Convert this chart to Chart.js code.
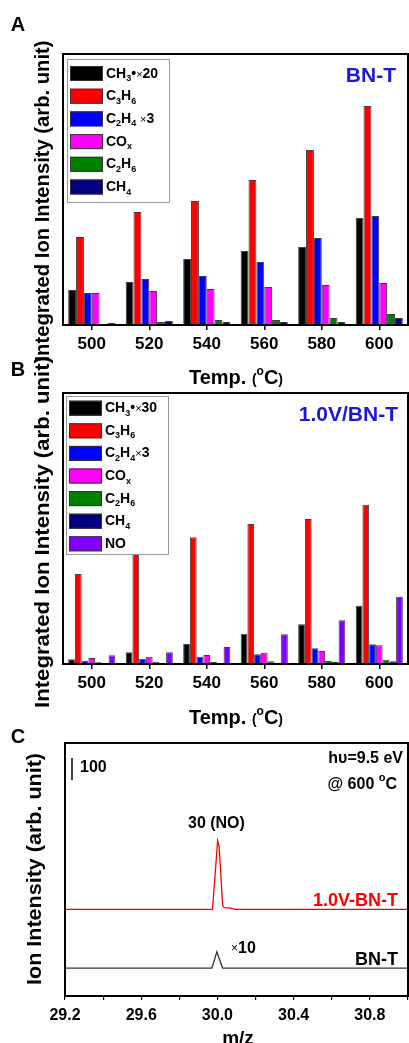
<!DOCTYPE html>
<html>
<head>
<meta charset="utf-8">
<script src="https://cdn.jsdelivr.net/npm/chart.js@4.4.1/dist/chart.umd.min.js"></script>
<style>
  html, body { margin: 0; padding: 0; background: #fff; }
  #wrap { position: relative; width: 409px; height: 1043px; overflow: hidden; }
  #wrap canvas { position: absolute; left: 0; }
</style>
</head>
<body>
<div id="wrap">
  <canvas id="chartA" width="409" height="390" style="top:0px"></canvas>
  <canvas id="chartB" width="409" height="390" style="top:339px"></canvas>
  <canvas id="chartC" width="409" height="343" style="top:700px"></canvas>
</div>
<script>
const temps = ['500', '520', '540', '560', '580', '600'];

// panel A - BN-T (integrated intensities, arb. unit)
const labelsA = ['CH₃•×20', 'C₃H₆', 'C₂H₄ ×3', 'COₓ', 'C₂H₆', 'CH₄'];
const ch3A  = [35, 43, 66, 74, 78, 107];
const c3h6A = [88, 113, 124, 145, 175, 219];
const c2h4A = [32, 46, 49, 63, 87, 109];
const coxA  = [32, 34, 36, 38, 40, 42];
const c2h6A = [1, 3, 5, 5, 7, 11];
const ch4A  = [2, 4, 3, 3, 3, 7];

// panel B - 1.0V/BN-T
const labelsB = ['CH₃•×30', 'C₃H₆', 'C₂H₄×3', 'COₓ', 'C₂H₆', 'CH₄', 'NO'];
const ch3B  = [4.7, 11.7, 20, 30.3, 39.7, 58.3];
const c3h6B = [90, 112, 126.7, 140, 145, 159.3];
const c2h4B = [3.3, 5.3, 7.3, 9.7, 15.7, 19.7];
const coxB  = [6, 7.3, 9, 11.3, 13, 18.7];
const c2h6B = [1.7, 2.3, 2, 2.7, 3, 4.3];
const ch4B  = [0.7, 0.7, 0.7, 1.3, 2, 2.7];
const noB   = [8.7, 11.7, 17, 29.7, 43.7, 67.3];

// panel C - mass spectra at 600 C (offset traces)
const mzRed    = [29.2, 29.974, 30.001, 30.009, 30.027, 30.035, 30.062, 30.079, 30.09, 31.0];
const intRed   = [394, 394, 706, 679, 413, 402, 401, 397, 394, 394];
const mzBlack  = [29.2, 29.971, 29.997, 30.027, 31.0];
const intBlack = [127, 127, 201, 127, 127];
const scaleBarValue = 100;

const FONT = '"Liberation Sans", Arial, Helvetica, sans-serif';
const barColors = ['#000000', '#ff0000', '#0000ff', '#ff00ff', '#008000', '#000080', '#8000ff'];
const SUB = { '₀': '0', '₁': '1', '₂': '2', '₃': '3', '₄': '4', '₅': '5', '₆': '6', '₇': '7', '₈': '8', '₉': '9', 'ₓ': 'x' };

// label with chemical subscripts, baseline at y
function chemText(ctx, str, x, y, size) {
  let cx = x;
  ctx.textAlign = 'left';
  ctx.textBaseline = 'alphabetic';
  for (const ch of str) {
    let t = ch, dy = 0;
    if (SUB[ch]) {
      t = SUB[ch];
      dy = size * 0.25;
      ctx.font = `bold ${Math.round(size * 0.62)}px ${FONT}`;
    } else if (ch === '×') {
      ctx.font = `${Math.round(size * 0.8)}px ${FONT}`;
    } else {
      ctx.font = `bold ${size}px ${FONT}`;
    }
    ctx.fillText(t, cx, y + dy);
    cx += ctx.measureText(t).width;
  }
}

// mixed-size text pieces: [text, size, raise]
function segText(ctx, segs, x, y, align) {
  let w = 0;
  segs.forEach(([t, s]) => { ctx.font = `bold ${s}px ${FONT}`; w += ctx.measureText(t).width; });
  let cx = align === 'center' ? x - w / 2 : align === 'right' ? x - w : x;
  ctx.textAlign = 'left';
  ctx.textBaseline = 'alphabetic';
  segs.forEach(([t, s, r]) => {
    ctx.font = `bold ${s}px ${FONT}`;
    ctx.fillText(t, cx, y - (r || 0));
    cx += ctx.measureText(t).width;
  });
}

function vTitle(ctx, text, cx, cy, len, size) {
  ctx.save();
  ctx.translate(cx, cy);
  ctx.rotate(-Math.PI / 2);
  ctx.font = `bold ${size}px ${FONT}`;
  const w = ctx.measureText(text).width;
  ctx.scale(len / w, 1);
  ctx.textAlign = 'center';
  ctx.textBaseline = 'middle';
  ctx.fillStyle = '#000';
  ctx.fillText(text, 0, 0);
  ctx.restore();
}

function drawLegend(ctx, chart, a, L) {
  const x0 = a.left + L.left, y0 = a.top + L.top;
  ctx.fillStyle = '#fff';
  ctx.fillRect(x0, y0, L.width, L.height);
  ctx.strokeStyle = '#9a9a9a';
  ctx.lineWidth = 1;
  ctx.strokeRect(x0 + 0.5, y0 + 0.5, L.width, L.height);
  chart.data.datasets.forEach((ds, i) => {
    const ty = y0 + L.padTop + i * L.rowH;
    ctx.fillStyle = ds.backgroundColor;
    ctx.fillRect(x0 + 3, ty, 33, 15);
    ctx.strokeStyle = '#333';
    ctx.strokeRect(x0 + 3.5, ty + 0.5, 32, 14);
    ctx.fillStyle = '#000';
    chemText(ctx, ds.label, x0 + 39, ty + 11.5, 14);
  });
}

const panelPlugin = {
  id: 'panel',
  afterDraw(chart, args, o) {
    const ctx = chart.ctx, a = chart.chartArea;
    ctx.save();
    drawLegend(ctx, chart, a, o.legend);
    ctx.strokeStyle = '#000';
    ctx.lineWidth = 2;
    ctx.strokeRect(a.left, a.top, a.right - a.left, a.bottom - a.top);

    ctx.fillStyle = '#000';
    ctx.font = `bold 20px ${FONT}`;
    ctx.textAlign = 'center';
    ctx.textBaseline = 'middle';
    ctx.fillText(o.letter, 18, o.letterY);

    vTitle(ctx, 'Integrated Ion Intensity (arb. unit)', 43, o.yTitleY, o.yTitleLen, o.yTitleSize);

    ctx.fillStyle = '#1a1ad6';
    ctx.font = `bold 21px ${FONT}`;
    ctx.textAlign = 'right';
    ctx.textBaseline = 'alphabetic';
    ctx.fillText(o.tag, o.tagX, a.top + 27.5);

    ctx.fillStyle = '#000';
    segText(ctx, [['Temp. ', 20], ['(', 14], ['o', 12, 9], ['C', 20], [')', 14]], 236, o.xTitleY, 'center');
    ctx.restore();
  }
};

function barSets(labels, series) {
  return series.map((d, i) => ({
    label: labels[i],
    data: d,
    backgroundColor: barColors[i],
    borderColor: 'rgba(0,0,0,0.75)',
    borderWidth: 1,
    barPercentage: 1,
    categoryPercentage: 0.82
  }));
}

// keep the plot box exactly where the layout padding puts it
function fixAxis(height) {
  return s => {
    s.height = height;
    s.paddingLeft = 0;
    s.paddingRight = 0;
  };
}

function barChart(id, labels, series, panel) {
  return new Chart(document.getElementById(id), {
    type: 'bar',
    data: { labels: temps, datasets: barSets(labels, series) },
    options: {
      responsive: false,
      animation: false,
      devicePixelRatio: 1,
      layout: { padding: { left: 63, top: 54, right: 1, bottom: 35 } },
      scales: {
        x: {
          offset: true,
          grid: { offset: false, drawOnChartArea: false, drawTicks: true, tickLength: 5, color: '#000', lineWidth: 1.5 },
          border: { display: true, color: '#000', width: 2 },
          ticks: { color: '#000', font: { family: FONT, size: 17, weight: 'bold' }, padding: 4, maxRotation: 0 },
          afterFit: fixAxis(30)
        },
        y: { display: false, min: 0, max: 271 }
      },
      plugins: {
        legend: { display: false },
        tooltip: { enabled: false },
        panel: panel
      }
    },
    plugins: [panelPlugin]
  });
}

barChart('chartA', labelsA, [ch3A, c3h6A, c2h4A, coxA, c2h6A, ch4A], {
  letter: 'A', letterY: 25,
  yTitleY: 201, yTitleLen: 321, yTitleSize: 20,
  tag: 'BN-T', tagX: 396,
  xTitleY: 384,
  legend: { left: 4, top: 5, width: 102, height: 143, padTop: 7, rowH: 22.7 }
});

barChart('chartB', labelsB, [ch3B, c3h6B, c2h4B, coxB, c2h6B, ch4B, noB], {
  letter: 'B', letterY: 31,
  yTitleY: 193, yTitleLen: 352, yTitleSize: 21,
  tag: '1.0V/BN-T', tagX: 398,
  xTitleY: 385,
  legend: { left: 3, top: 3, width: 102, height: 158, padTop: 4.7, rowH: 22.6 }
});

const spectrumDecor = {
  id: 'spectrumDecor',
  afterDraw(chart) {
    const ctx = chart.ctx, a = chart.chartArea, xs = chart.scales.x, ys = chart.scales.y;
    ctx.save();
    ctx.strokeStyle = '#000';
    ctx.lineWidth = 2;
    ctx.strokeRect(a.left, a.top, a.right - a.left, a.bottom - a.top);

    ctx.fillStyle = '#000';
    ctx.font = `bold 20px ${FONT}`;
    ctx.textAlign = 'center';
    ctx.textBaseline = 'middle';
    ctx.fillText('C', 18, 37);
    vTitle(ctx, 'Ion Intensity (arb. unit)', 35, 169, 232, 21);

    // intensity scale bar
    ctx.lineWidth = 1.5;
    ctx.beginPath();
    ctx.moveTo(a.left + 7, ys.getPixelForValue(1082));
    ctx.lineTo(a.left + 7, ys.getPixelForValue(1082 - scaleBarValue));
    ctx.stroke();
    ctx.font = `bold 16px ${FONT}`;
    ctx.textAlign = 'left';
    ctx.textBaseline = 'alphabetic';
    ctx.fillText(String(scaleBarValue), 80, 72);

    ctx.textAlign = 'right';
    ctx.fillText('hυ=9.5 eV', 403, 63);
    segText(ctx, [['@ 600 ', 16], ['o', 11, 8], ['C', 16]], 397, 89, 'right');

    ctx.font = `bold 16px ${FONT}`;
    ctx.textAlign = 'center';
    ctx.fillText('30 (NO)', xs.getPixelForValue(30.0) - 1, 128);

    ctx.font = `bold 18px ${FONT}`;
    ctx.textAlign = 'right';
    ctx.fillStyle = '#ff0000';
    ctx.fillText('1.0V-BN-T', 398, 205.5);
    ctx.fillStyle = '#000';
    ctx.fillText('BN-T', 398, 264.5);

    ctx.textAlign = 'left';
    ctx.font = `12px ${FONT}`;
    ctx.fillText('×', 231, 252);
    ctx.font = `bold 16px ${FONT}`;
    ctx.fillText('10', 238, 253);

    ctx.font = `bold 19px ${FONT}`;
    ctx.textAlign = 'center';
    ctx.fillText('m/z', 238, 344);
    ctx.restore();
  }
};

new Chart(document.getElementById('chartC'), {
  type: 'scatter',
  data: {
    datasets: [
      { label: '1.0V-BN-T', data: mzRed.map((x, i) => ({ x, y: intRed[i] })), showLine: true,
        borderColor: '#ff0000', borderWidth: 1.3, pointRadius: 0, tension: 0 },
      { label: 'BN-T', data: mzBlack.map((x, i) => ({ x, y: intBlack[i] })), showLine: true,
        borderColor: '#333333', borderWidth: 1.3, pointRadius: 0, tension: 0 }
    ]
  },
  options: {
    responsive: false,
    animation: false,
    devicePixelRatio: 1,
    layout: { padding: { left: 65, top: 43, right: 1, bottom: 15 } },
    scales: {
      x: {
        type: 'linear', min: 29.2, max: 31.0,
        ticks: {
          stepSize: 0.2, autoSkip: false, maxRotation: 0, padding: 6, color: '#000',
          font: { family: FONT, size: 16, weight: 'bold' },
          callback: v => {
            const k = Math.round((v - 29.2) / 0.2);
            return (k % 2 === 0 && v < 30.9) ? v.toFixed(1) : '';
          }
        },
        grid: { drawOnChartArea: false, drawTicks: true, tickLength: 4, color: '#000', lineWidth: 1.2 },
        border: { display: true, color: '#000', width: 2 },
        afterFit: fixAxis(32)
      },
      y: { display: false, min: 0, max: 1150 }
    },
    plugins: { legend: { display: false }, tooltip: { enabled: false } }
  },
  plugins: [spectrumDecor]
});
</script>
</body>
</html>
